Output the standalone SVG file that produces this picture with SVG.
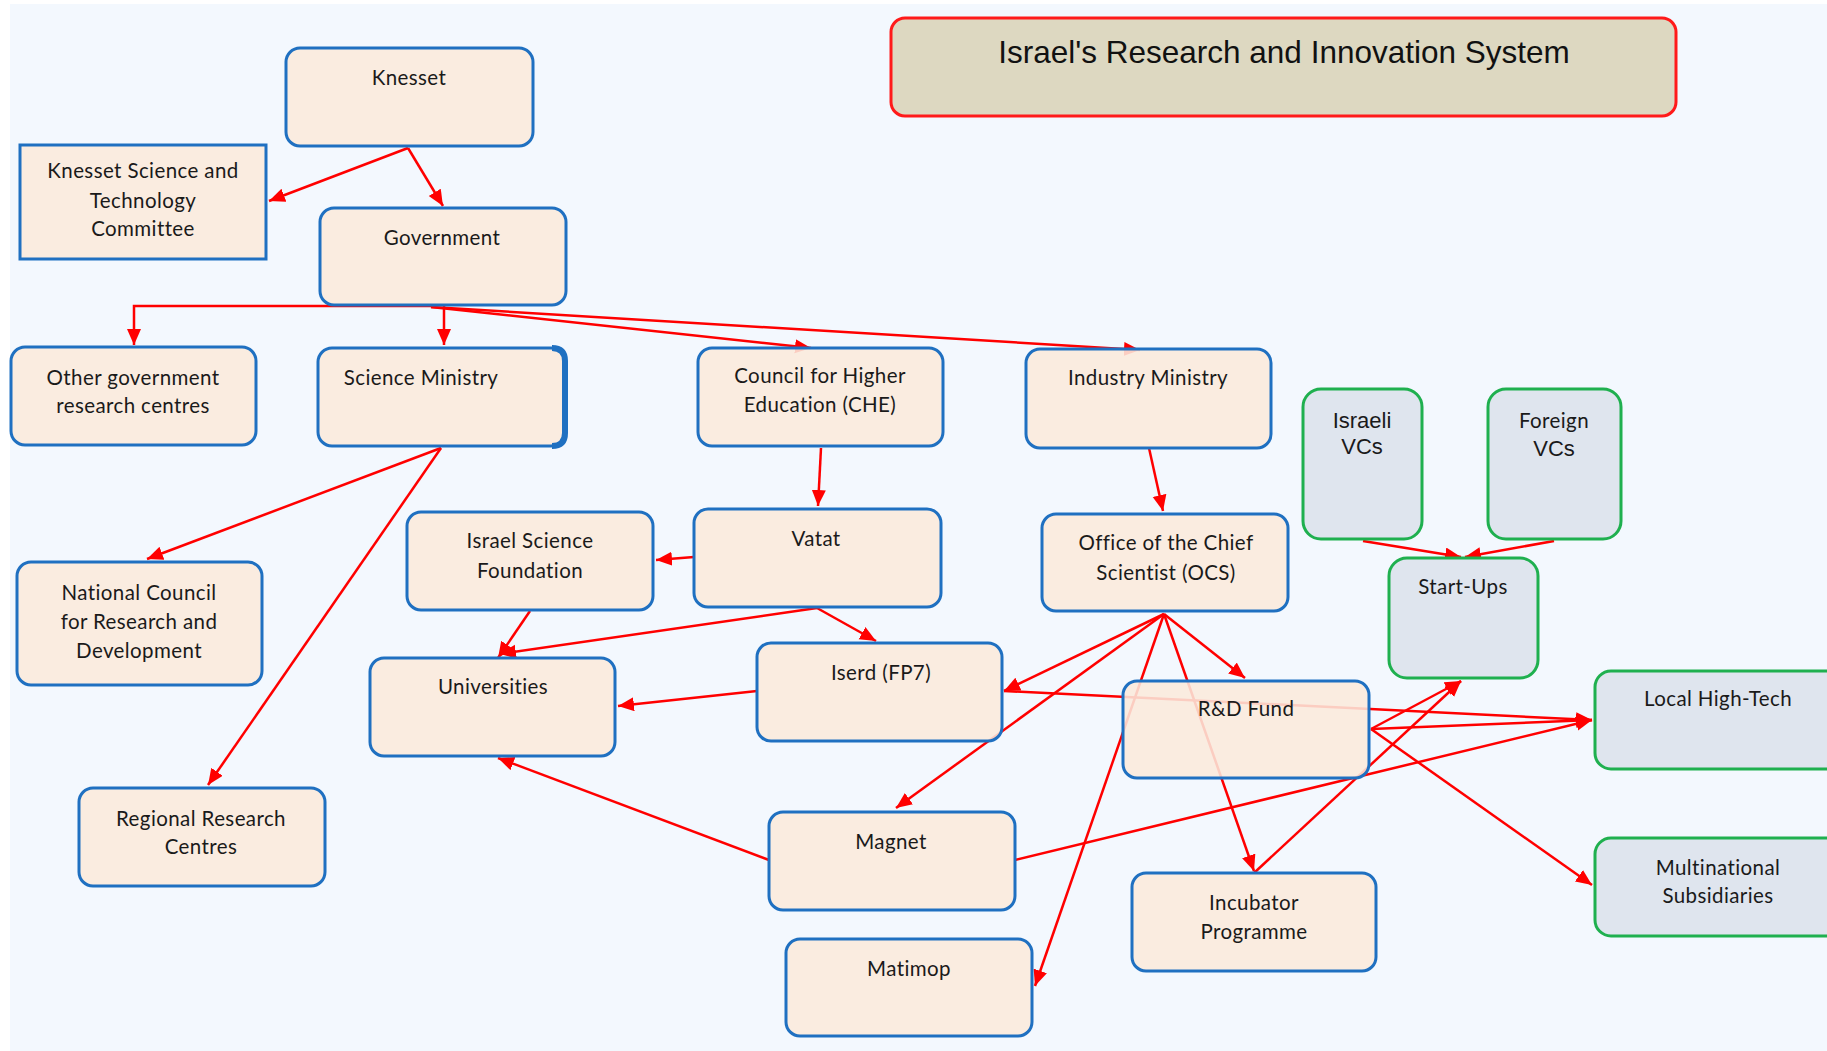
<svg xmlns="http://www.w3.org/2000/svg" width="1827" height="1051" viewBox="0 0 1827 1051">
<defs>
<marker id="ah" markerUnits="userSpaceOnUse" markerWidth="17" markerHeight="15" refX="16" refY="7" orient="auto">
<path d="M0,0 L16,7 L0,14 z" fill="#ff0000"/>
</marker>
<style>
.n{fill:#fbe9dc;fill-opacity:0.88;stroke:#1f70c1;stroke-width:3}
.g{fill:#dfe5ee;stroke:#1fb04f;stroke-width:3}
.t{font-family:Lato,"Open Sans",sans-serif;font-size:20.5px;fill:#1a1a1a;text-anchor:middle;letter-spacing:0.4px}
.a{font-family:"Liberation Sans",Arial,sans-serif;font-size:22px;fill:#1a1a1a;text-anchor:middle}
.c path{fill:none;stroke:#ff0000;stroke-width:2.5;marker-end:url(#ah)}
</style>
</defs>
<rect width="1827" height="1051" fill="#ffffff"/>
<rect x="10" y="4" width="1817" height="1047" fill="#f3f8fe"/>

<g id="title">
<rect x="891" y="18" width="785" height="98" rx="14" fill="#ddd8c1" stroke="#ff1a1a" stroke-width="3"/>
<text x="1284" y="63" font-family="Liberation Sans,Arial,sans-serif" font-size="31.5" fill="#111" text-anchor="middle">Israel's Research and Innovation System</text>
</g>

<g id="connectors" class="c">
<path d="M408,148 L269,201"/>
<path d="M408,148 L443,206"/>
<path d="M436,306 L134,306 L134,345"/>
<path d="M444,306 L444,345"/>
<path d="M431,307 L811,348"/>
<path d="M431,307 L1140,350"/>
<path d="M441,448 L147,559"/>
<path d="M441,448 L208,785"/>
<path d="M821,448 L818,506"/>
<path d="M1149,448 L1163,511"/>
<path d="M694,557 L656,560"/>
<path d="M530,611 L498,658"/>
<path d="M817,608 L500,654"/>
<path d="M817,608 L876,641"/>
<path d="M757,691 L618,706"/>
<path d="M769,860 L498,758"/>
<path d="M1164,614 L1004,691"/>
<path d="M1164,614 L896,808"/>
<path d="M1164,614 L1245,678"/>
<path d="M1164,614 L1254,871"/>
<path d="M1164,614 L1035,986"/>
<path d="M1004,691 L1592,720"/>
<path d="M1371,729 L1592,720"/>
<path d="M1371,729 L1461,681"/>
<path d="M1371,729 L1592,885"/>
<path d="M1015,860 L1592,720"/>
<path d="M1254,873 L1461,681"/>
<path d="M1363,541 L1461,557"/>
<path d="M1554,541 L1465,557"/>
</g>

<g id="knesset"><rect class="n" x="286" y="48" width="247" height="98" rx="14"/><text class="t" x="409" y="85">Knesset</text></g>
<g id="kstc"><rect class="n" x="20" y="145" width="246" height="114"/><text class="t" x="143" y="178">Knesset Science and</text><text class="t" x="143" y="208">Technology</text><text class="t" x="143" y="236">Committee</text></g>
<g id="government"><rect class="n" x="320" y="208" width="246" height="97" rx="14"/><text class="t" x="442" y="245">Government</text></g>
<g id="other-gov"><rect class="n" x="11" y="347" width="245" height="98" rx="14"/><text class="t" x="133" y="385">Other government</text><text class="t" x="133" y="413">research centres</text></g>
<g id="science-ministry"><rect class="n" x="318" y="348" width="247" height="98" rx="14"/><path d="M552,348 Q565,348 565,361 L565,433 Q565,446 552,446" fill="none" stroke="#1f70c1" stroke-width="6"/><text class="t" x="421" y="385">Science Ministry</text></g>
<g id="che"><rect class="n" x="698" y="348" width="245" height="98" rx="14"/><text class="t" x="820" y="383">Council for Higher</text><text class="t" x="820" y="412">Education (CHE)</text></g>
<g id="industry"><rect class="n" x="1026" y="349" width="245" height="99" rx="14"/><text class="t" x="1148" y="385">Industry Ministry</text></g>
<g id="ncrd"><rect class="n" x="17" y="562" width="245" height="123" rx="14"/><text class="t" x="139" y="600">National Council</text><text class="t" x="139" y="629">for Research and</text><text class="t" x="139" y="658">Development</text></g>
<g id="regional"><rect class="n" x="79" y="788" width="246" height="98" rx="14"/><text class="t" x="201" y="826">Regional Research</text><text class="t" x="201" y="854">Centres</text></g>
<g id="isf"><rect class="n" x="407" y="512" width="246" height="98" rx="14"/><text class="t" x="530" y="548">Israel Science</text><text class="t" x="530" y="578">Foundation</text></g>
<g id="universities"><rect class="n" x="370" y="658" width="245" height="98" rx="14"/><text class="t" x="493" y="694">Universities</text></g>
<g id="vatat"><rect class="n" x="694" y="509" width="247" height="98" rx="14"/><text class="t" x="816" y="546">Vatat</text></g>
<g id="ocs"><rect class="n" x="1042" y="514" width="246" height="97" rx="14"/><text class="t" x="1166" y="550">Office of the Chief</text><text class="t" x="1166" y="580">Scientist (OCS)</text></g>
<g id="iserd"><rect class="n" x="757" y="643" width="245" height="98" rx="14"/><text class="t" x="881" y="680">Iserd (FP7)</text></g>
<g id="rd-fund"><rect class="n" x="1123" y="681" width="246" height="97" rx="14"/><text class="t" x="1246" y="716">R&amp;D Fund</text></g>
<g id="magnet"><rect class="n" x="769" y="812" width="246" height="98" rx="14"/><text class="t" x="891" y="849">Magnet</text></g>
<g id="incubator"><rect class="n" x="1132" y="873" width="244" height="98" rx="14"/><text class="t" x="1254" y="910">Incubator</text><text class="t" x="1254" y="939">Programme</text></g>
<g id="matimop"><rect class="n" x="786" y="939" width="246" height="97" rx="14"/><text class="t" x="909" y="976">Matimop</text></g>
<g id="israeli-vcs"><rect class="g" x="1303" y="389" width="119" height="150" rx="18"/><text class="a" x="1362" y="428">Israeli</text><text class="a" x="1362" y="454">VCs</text></g>
<g id="foreign-vcs"><rect class="g" x="1488" y="389" width="133" height="150" rx="18"/><text class="t" x="1554" y="428">Foreign</text><text class="a" x="1554" y="456">VCs</text></g>
<g id="start-ups"><rect class="g" x="1389" y="558" width="149" height="120" rx="18"/><text class="t" x="1463" y="594">Start-Ups</text></g>
<g id="local-high-tech"><rect class="g" x="1595" y="671" width="260" height="98" rx="16"/><text class="t" x="1718" y="706">Local High-Tech</text></g>
<g id="multinational"><rect class="g" x="1595" y="838" width="260" height="98" rx="16"/><text class="t" x="1718" y="875">Multinational</text><text class="t" x="1718" y="903">Subsidiaries</text></g>
</svg>
